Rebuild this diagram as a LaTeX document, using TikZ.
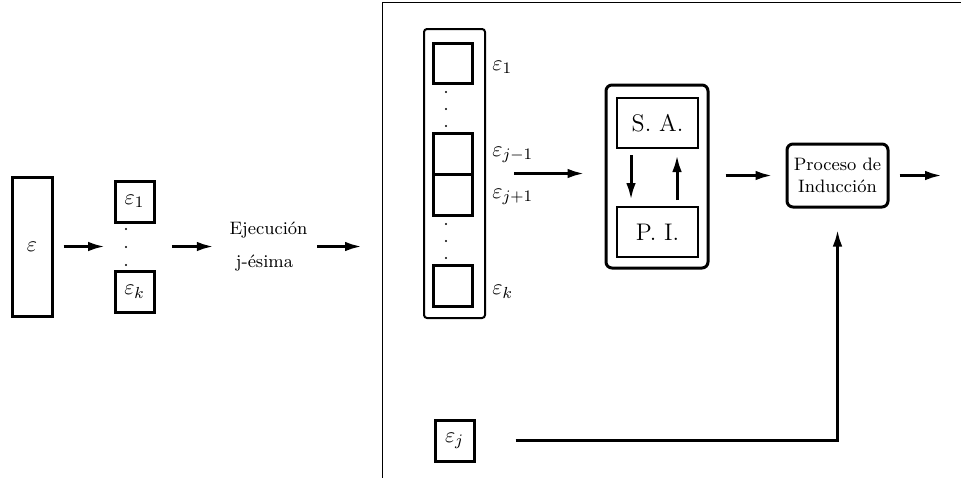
\documentclass[tikz,border=0pt]{standalone}
\usepackage{fontspec}
\usetikzlibrary{arrows.meta,fit}
\begin{document}
\begin{tikzpicture}[x=0.5pt,y=-0.5pt,font=\fontsize{11}{13}\selectfont,
  arr/.style={line width=1.5pt,-{Latex[length=8.5pt,width=4.8pt]}},
  box/.style={draw,line width=1.5pt,inner sep=0pt},
  thinbox/.style={draw,line width=1pt,inner sep=0pt},
  rbox/.style={draw,line width=1.5pt,rounded corners=3pt,inner sep=0pt},
  dotn/.style={circle,fill,inner sep=0pt,minimum size=1.1pt},
  lbl/.style={anchor=west,inner sep=0pt},
  txt/.style={inner sep=0pt,font=\fontsize{9}{11}\selectfont}]
\useasboundingbox (0,0) rectangle (961,477);
\clip (0,0) rectangle (961,477);
% left part
\node[box,minimum width=20pt,minimum height=69.5pt] (ebox) at (32,246.5) {$\varepsilon$};
\node[box,minimum width=19.5pt,minimum height=20.5pt] (e1) at (134.5,201.5) {$\varepsilon_1$};
\node[box,minimum width=19.5pt,minimum height=20.5pt] (ek) at (134.5,291.5) {$\varepsilon_k$};
\node[dotn] (d1) at (126,229) {};
\node[dotn] (d2) at (126,247) {};
\node[dotn] (d3) at (126,265) {};
\node[inner sep=0pt,fit=(e1)(ek)] (grp) {};
\node[txt] (ejec) at (268.5,230) {Ejecución};
\node[txt] (jes) at (264.5,263) {j-ésima};
\node[inner sep=0pt,fit=(ejec)(jes)] (lab) {};
% frame
\node[draw,line width=0.65pt,inner sep=0pt,minimum width=400pt,minimum height=400pt,anchor=north west] (frame) at (382,2) {};
\draw[arr,shorten <=5pt,shorten >=4pt] (ebox.east) -- (ebox.east -| grp.west);
\draw[arr,shorten <=8pt,shorten >=7.5pt] (grp.east) -- (grp.east -| lab.west);
\draw[arr,shorten <=4.5pt,shorten >=10pt] (lab.east) -- (lab.east -| frame.west);
% column
\node[draw,line width=1pt,rounded corners=1.5pt,inner sep=0pt,minimum width=30.5pt,minimum height=144.5pt] (col) at (454.5,173.5) {};
\node[box,minimum width=19.5pt,minimum height=20pt] (s1) at (452.5,63) {};
\node[box,minimum width=19.5pt,minimum height=20.5pt] (sa) at (452.5,153.5) {};
\node[box,minimum width=19.5pt,minimum height=20.5pt] (sb) at (452.5,194.5) {};
\node[box,minimum width=19.5pt,minimum height=20.5pt] (sk) at (452.5,285.5) {};
\node[dotn] (c1) at (446,92) {};
\node[dotn] (c2) at (446,109) {};
\node[dotn] (c3) at (446,126) {};
\node[dotn] (c4) at (446,224) {};
\node[dotn] (c5) at (446,241) {};
\node[dotn] (c6) at (446,258) {};
\node[lbl] (l1) at (492,67) {$\varepsilon_1$};
\node[lbl] (l2) at (492,155) {$\varepsilon_{j-1}$};
\node[lbl] (l3) at (492,197) {$\varepsilon_{j+1}$};
\node[lbl] (l4) at (492,292) {$\varepsilon_k$};
% SA / PI
\node[rbox,minimum width=51pt,minimum height=91.5pt] (sapi) at (657,176.5) {};
\node[thinbox,minimum width=40.5pt,minimum height=25pt,font=\fontsize{12}{14}\selectfont] (SA) at (657.5,123) {S. A.};
\node[thinbox,minimum width=40.5pt,minimum height=25pt,font=\fontsize{12}{14}\selectfont] (PI) at (657.5,232) {P. I.};
\draw[arr,shorten <=3pt,shorten >=3pt] ([xshift=-13.25pt]SA.south) -- ([xshift=-13.25pt]PI.north);
\draw[arr,shorten <=3pt,shorten >=3pt] ([xshift=9.75pt]PI.north) -- ([xshift=9.75pt]SA.south);
\draw[arr,shorten <=14pt,shorten >=10pt] (col.east) -- (col.east -| sapi.west);
% induction
\node[rbox,minimum width=50.5pt,minimum height=31.5pt,align=center,font=\fontsize{9}{11}\selectfont] (proc) at (837.5,175.5) {Proceso de\\Inducción};
\draw[arr,shorten <=8pt,shorten >=6.5pt] (sapi.east |- proc.west) -- (proc.west);
\coordinate (out) at (942,175.5);
\draw[arr,shorten <=5pt] (proc.east) -- (out);
\node[box,minimum width=19.5pt,minimum height=20.5pt] (ej) at (454.5,440.5) {$\varepsilon_j$};
\draw[arr,shorten <=20pt,shorten >=10.5pt] (ej.east) -| (proc.south);
\end{tikzpicture}
\end{document}
